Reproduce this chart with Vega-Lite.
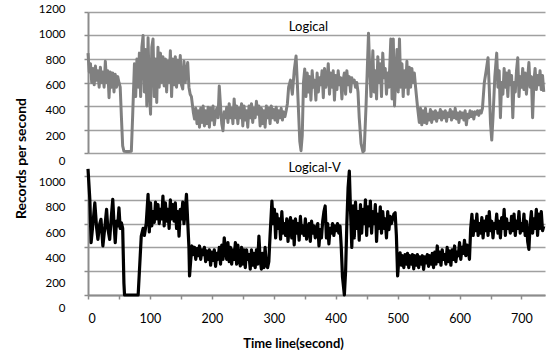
{
  "$schema": "https://vega.github.io/schema/vega-lite/v6.json",
  "padding": {"left": 14, "top": 3, "right": 2, "bottom": 0},
  "bounds": "flush",
  "spacing": 23,
  "config": {
    "view": {"stroke": null},
    "font": "Lato",
    "axis": {
      "labelFont": "Lato", "labelFontSize": 11.5, "labelColor": "#000000",
      "titleFont": "Lato", "titleColor": "#000000",
      "domain": true, "ticks": true,
      "domainColor": "#8c8c8c", "domainWidth": 2, "domainOpacity": 1,
      "tickColor": "#8c8c8c", "tickWidth": 1.5, "tickOpacity": 1,
      "gridColor": "#a0a0a0", "gridWidth": 1.5, "gridOpacity": 1
    }
  },
  "datasets": {
    "logical": [
      {"t":0,"v":850},{"t":2,"v":690},{"t":4,"v":760},{"t":6,"v":600},{"t":8,"v":720},{"t":10,"v":580},{"t":12,"v":740},{"t":14,"v":620},{"t":16,"v":700},{"t":18,"v":560},{"t":20,"v":730},{"t":22,"v":600},{"t":24,"v":690},{"t":26,"v":560},{"t":28,"v":780},{"t":30,"v":600},{"t":32,"v":700},{"t":34,"v":470},{"t":36,"v":690},{"t":38,"v":560},{"t":40,"v":680},{"t":42,"v":520},{"t":44,"v":670},{"t":46,"v":560},{"t":48,"v":650},{"t":50,"v":600},{"t":52,"v":560},{"t":54,"v":300},{"t":56,"v":60},{"t":58,"v":15},{"t":62,"v":12},{"t":66,"v":12},{"t":70,"v":15},{"t":72,"v":300},{"t":75,"v":760},
      {"t":77,"v":480},{"t":79,"v":800},{"t":81,"v":560},{"t":83,"v":850},{"t":85,"v":480},{"t":87,"v":900},{"t":89,"v":1000},{"t":91,"v":520},{"t":93,"v":880},{"t":95,"v":400},{"t":97,"v":980},{"t":99,"v":540},{"t":101,"v":330},{"t":103,"v":900},{"t":105,"v":970},{"t":107,"v":480},{"t":109,"v":800},{"t":111,"v":430},{"t":113,"v":900},{"t":115,"v":560},{"t":117,"v":850},{"t":119,"v":600},{"t":121,"v":820},{"t":123,"v":570},{"t":125,"v":800},{"t":127,"v":520},{"t":129,"v":780},{"t":131,"v":600},{"t":133,"v":870},{"t":135,"v":480},{"t":137,"v":800},{"t":139,"v":580},{"t":141,"v":820},{"t":143,"v":560},{"t":145,"v":790},{"t":147,"v":600},{"t":149,"v":830},{"t":151,"v":580},{"t":153,"v":545},{"t":155,"v":780},{"t":157,"v":600},{"t":159,"v":700},{"t":161,"v":770},{"t":163,"v":560},{"t":165,"v":500},{"t":167,"v":480},{"t":170,"v":350},{"t":172,"v":290},
      {"t":174,"v":380},{"t":176,"v":250},{"t":178,"v":360},{"t":180,"v":220},{"t":182,"v":380},{"t":184,"v":260},{"t":186,"v":400},{"t":188,"v":230},{"t":190,"v":360},{"t":192,"v":250},{"t":194,"v":390},{"t":196,"v":220},{"t":198,"v":380},{"t":200,"v":280},{"t":202,"v":400},{"t":204,"v":240},{"t":206,"v":330},{"t":208,"v":380},{"t":210,"v":300},{"t":212,"v":570},{"t":214,"v":400},{"t":216,"v":250},{"t":218,"v":190},{"t":220,"v":350},{"t":222,"v":300},{"t":224,"v":390},{"t":226,"v":260},{"t":228,"v":420},{"t":230,"v":300},{"t":232,"v":380},{"t":234,"v":250},{"t":236,"v":460},{"t":238,"v":300},{"t":240,"v":400},{"t":242,"v":250},{"t":244,"v":380},{"t":246,"v":300},{"t":248,"v":420},{"t":250,"v":230},{"t":252,"v":400},{"t":254,"v":280},{"t":256,"v":360},{"t":258,"v":220},{"t":260,"v":400},{"t":262,"v":300},{"t":264,"v":420},{"t":266,"v":260},{"t":268,"v":380},{"t":270,"v":300},{"t":272,"v":440},{"t":274,"v":330},{"t":276,"v":400},{"t":278,"v":230},{"t":280,"v":380},{"t":282,"v":250},{"t":284,"v":360},{"t":286,"v":220},{"t":288,"v":400},{"t":290,"v":300},{"t":292,"v":380},{"t":294,"v":250},{"t":296,"v":400},{"t":298,"v":300},{"t":300,"v":370},{"t":302,"v":280},{"t":304,"v":390},{"t":306,"v":260},{"t":308,"v":360},{"t":310,"v":300},{"t":312,"v":380},{"t":314,"v":280},{"t":316,"v":350},{"t":318,"v":310},{"t":320,"v":360},{"t":322,"v":420},
      {"t":324,"v":560},{"t":327,"v":620},{"t":330,"v":500},{"t":333,"v":700},{"t":336,"v":825},{"t":338,"v":600},{"t":340,"v":350},{"t":342,"v":100},{"t":344,"v":20},{"t":346,"v":150},{"t":348,"v":600},{"t":350,"v":715},
      {"t":352,"v":480},{"t":354,"v":680},{"t":356,"v":520},{"t":358,"v":650},{"t":360,"v":450},{"t":362,"v":700},{"t":364,"v":560},{"t":366,"v":620},{"t":368,"v":450},{"t":370,"v":680},{"t":372,"v":520},{"t":374,"v":640},{"t":376,"v":580},{"t":378,"v":700},{"t":380,"v":470},{"t":382,"v":720},{"t":384,"v":560},{"t":386,"v":620},{"t":388,"v":760},{"t":390,"v":500},{"t":392,"v":680},{"t":394,"v":560},{"t":396,"v":700},{"t":398,"v":450},{"t":400,"v":660},{"t":402,"v":540},{"t":404,"v":700},{"t":406,"v":580},{"t":408,"v":640},{"t":410,"v":460},{"t":412,"v":620},{"t":414,"v":680},{"t":416,"v":500},{"t":418,"v":700},{"t":420,"v":580},{"t":422,"v":650},{"t":424,"v":520},{"t":426,"v":640},{"t":428,"v":600},{"t":430,"v":620},{"t":432,"v":560},{"t":434,"v":600},{"t":436,"v":520},{"t":438,"v":300},{"t":441,"v":80},{"t":444,"v":10},{"t":446,"v":20},{"t":449,"v":400},{"t":453,"v":1020},
      {"t":455,"v":700},{"t":457,"v":480},{"t":460,"v":870},{"t":462,"v":520},{"t":464,"v":700},{"t":466,"v":460},{"t":468,"v":820},{"t":470,"v":600},{"t":472,"v":760},{"t":474,"v":480},{"t":476,"v":850},{"t":478,"v":640},{"t":480,"v":720},{"t":482,"v":500},{"t":484,"v":680},{"t":486,"v":560},{"t":489,"v":970},{"t":491,"v":460},{"t":493,"v":970},{"t":495,"v":400},{"t":497,"v":650},{"t":499,"v":880},{"t":501,"v":520},{"t":503,"v":970},{"t":505,"v":560},{"t":507,"v":760},{"t":509,"v":480},{"t":511,"v":700},{"t":513,"v":560},{"t":515,"v":780},{"t":517,"v":500},{"t":519,"v":730},{"t":521,"v":560},{"t":523,"v":720},{"t":525,"v":600},{"t":527,"v":680},{"t":529,"v":560},{"t":532,"v":400},{"t":535,"v":260},
      {"t":537,"v":380},{"t":539,"v":240},{"t":541,"v":360},{"t":543,"v":260},{"t":545,"v":380},{"t":547,"v":250},{"t":549,"v":330},{"t":551,"v":280},{"t":553,"v":370},{"t":555,"v":260},{"t":557,"v":350},{"t":559,"v":290},{"t":561,"v":360},{"t":563,"v":270},{"t":565,"v":340},{"t":567,"v":300},{"t":569,"v":370},{"t":571,"v":280},{"t":573,"v":350},{"t":575,"v":300},{"t":577,"v":360},{"t":579,"v":270},{"t":581,"v":340},{"t":583,"v":310},{"t":585,"v":370},{"t":587,"v":280},{"t":589,"v":350},{"t":591,"v":300},{"t":593,"v":380},{"t":595,"v":290},{"t":597,"v":340},{"t":599,"v":260},{"t":601,"v":350},{"t":603,"v":300},{"t":605,"v":340},{"t":607,"v":280},{"t":609,"v":360},{"t":611,"v":240},{"t":613,"v":330},{"t":615,"v":300},{"t":617,"v":360},{"t":619,"v":310},{"t":621,"v":350},{"t":623,"v":290},{"t":625,"v":350},{"t":627,"v":330},{"t":629,"v":360},{"t":631,"v":320},{"t":633,"v":360},{"t":635,"v":340},{"t":637,"v":380},
      {"t":640,"v":600},{"t":643,"v":700},{"t":646,"v":810},{"t":648,"v":550},{"t":650,"v":250},{"t":652,"v":110},{"t":654,"v":300},{"t":657,"v":650},{"t":660,"v":850},{"t":662,"v":560},{"t":664,"v":700},{"t":666,"v":300},{"t":668,"v":600},{"t":670,"v":500},{"t":672,"v":720},{"t":674,"v":560},{"t":676,"v":680},{"t":678,"v":480},{"t":680,"v":700},{"t":682,"v":580},{"t":684,"v":660},{"t":686,"v":300},{"t":688,"v":600},{"t":690,"v":520},{"t":692,"v":700},{"t":694,"v":810},{"t":696,"v":480},{"t":698,"v":650},{"t":700,"v":560},{"t":702,"v":720},{"t":704,"v":540},{"t":706,"v":680},{"t":708,"v":500},{"t":710,"v":640},{"t":712,"v":770},{"t":714,"v":560},{"t":716,"v":650},{"t":718,"v":300},{"t":720,"v":600},{"t":722,"v":720},{"t":724,"v":540},{"t":726,"v":660},{"t":728,"v":580},{"t":730,"v":700},{"t":732,"v":540},{"t":734,"v":660},{"t":736,"v":520}
    ],
    "logicalv": [
      {"t":0,"v":1060},{"t":3,"v":800},{"t":5,"v":440},{"t":8,"v":600},{"t":11,"v":775},{"t":14,"v":560},{"t":16,"v":467},{"t":19,"v":600},{"t":21,"v":636},{"t":24,"v":412},{"t":27,"v":560},{"t":30,"v":720},{"t":32,"v":560},{"t":35,"v":467},{"t":38,"v":680},{"t":40,"v":804},{"t":42,"v":600},{"t":44,"v":440},{"t":46,"v":620},{"t":48,"v":580},{"t":50,"v":733},{"t":52,"v":560},{"t":54,"v":607},{"t":56,"v":560},{"t":58,"v":100},{"t":59,"v":0},{"t":70,"v":0},{"t":81,"v":0},{"t":86,"v":495},{"t":89,"v":560},{"t":91,"v":500},{"t":94,"v":600},{"t":97,"v":846},{"t":99,"v":530},{"t":101,"v":775},{"t":103,"v":580},{"t":105,"v":700},{"t":107,"v":610},{"t":109,"v":780},{"t":111,"v":640},{"t":113,"v":760},{"t":115,"v":600},{"t":117,"v":720},{"t":119,"v":640},{"t":121,"v":832},{"t":123,"v":580},{"t":125,"v":775},{"t":127,"v":620},{"t":129,"v":720},{"t":131,"v":560},{"t":133,"v":800},{"t":135,"v":640},{"t":137,"v":760},{"t":139,"v":620},{"t":141,"v":775},{"t":143,"v":560},{"t":145,"v":700},{"t":147,"v":495},{"t":149,"v":720},{"t":151,"v":640},{"t":153,"v":780},{"t":155,"v":600},{"t":157,"v":700},{"t":159,"v":846},{"t":161,"v":620},{"t":163,"v":400},{"t":164,"v":160},{"t":166,"v":300},{"t":168,"v":412},
      {"t":170,"v":340},{"t":172,"v":400},{"t":174,"v":300},{"t":176,"v":390},{"t":178,"v":330},{"t":180,"v":412},{"t":182,"v":300},{"t":184,"v":380},{"t":186,"v":340},{"t":188,"v":400},{"t":190,"v":280},{"t":192,"v":370},{"t":194,"v":300},{"t":196,"v":380},{"t":198,"v":250},{"t":200,"v":360},{"t":202,"v":290},{"t":204,"v":380},{"t":206,"v":240},{"t":208,"v":350},{"t":210,"v":300},{"t":212,"v":400},{"t":214,"v":260},{"t":216,"v":420},{"t":218,"v":300},{"t":220,"v":481},{"t":222,"v":380},{"t":224,"v":300},{"t":226,"v":440},{"t":228,"v":280},{"t":230,"v":400},{"t":232,"v":260},{"t":234,"v":380},{"t":236,"v":300},{"t":238,"v":440},{"t":240,"v":260},{"t":242,"v":420},{"t":244,"v":300},{"t":246,"v":244},{"t":248,"v":400},{"t":250,"v":260},{"t":252,"v":380},{"t":254,"v":230},{"t":256,"v":380},{"t":258,"v":300},{"t":260,"v":340},{"t":262,"v":218},{"t":264,"v":380},{"t":266,"v":250},{"t":268,"v":350},{"t":270,"v":230},{"t":272,"v":380},{"t":274,"v":260},{"t":276,"v":495},{"t":278,"v":300},{"t":280,"v":218},{"t":282,"v":350},{"t":284,"v":230},{"t":286,"v":400},{"t":288,"v":250},{"t":290,"v":230},{"t":292,"v":280},{"t":294,"v":500},{"t":297,"v":790},
      {"t":299,"v":600},{"t":301,"v":720},{"t":303,"v":480},{"t":305,"v":680},{"t":307,"v":560},{"t":309,"v":640},{"t":311,"v":470},{"t":313,"v":700},{"t":315,"v":520},{"t":317,"v":600},{"t":319,"v":500},{"t":321,"v":640},{"t":323,"v":450},{"t":325,"v":580},{"t":327,"v":650},{"t":329,"v":480},{"t":331,"v":620},{"t":333,"v":420},{"t":335,"v":640},{"t":337,"v":520},{"t":339,"v":600},{"t":341,"v":460},{"t":343,"v":660},{"t":345,"v":520},{"t":347,"v":580},{"t":349,"v":500},{"t":351,"v":640},{"t":353,"v":470},{"t":355,"v":560},{"t":357,"v":600},{"t":359,"v":450},{"t":361,"v":620},{"t":363,"v":520},{"t":365,"v":580},{"t":367,"v":480},{"t":369,"v":560},{"t":371,"v":600},{"t":373,"v":412},{"t":375,"v":550},{"t":377,"v":480},{"t":379,"v":620},{"t":381,"v":700},{"t":383,"v":748},{"t":385,"v":480},{"t":387,"v":600},{"t":389,"v":430},{"t":391,"v":560},{"t":393,"v":520},{"t":395,"v":600},{"t":397,"v":500},{"t":399,"v":580},{"t":401,"v":540},{"t":403,"v":600},{"t":405,"v":520},{"t":407,"v":580},{"t":409,"v":400},{"t":411,"v":150},{"t":414,"v":0},{"t":416,"v":200},{"t":418,"v":600},{"t":420,"v":900},{"t":422,"v":1042},
      {"t":424,"v":700},{"t":426,"v":400},{"t":428,"v":750},{"t":430,"v":480},{"t":432,"v":780},{"t":434,"v":560},{"t":436,"v":700},{"t":438,"v":460},{"t":440,"v":760},{"t":442,"v":520},{"t":444,"v":720},{"t":446,"v":600},{"t":448,"v":800},{"t":450,"v":500},{"t":452,"v":740},{"t":454,"v":580},{"t":456,"v":790},{"t":458,"v":520},{"t":460,"v":700},{"t":462,"v":600},{"t":464,"v":760},{"t":466,"v":450},{"t":468,"v":680},{"t":470,"v":560},{"t":472,"v":740},{"t":474,"v":520},{"t":476,"v":700},{"t":478,"v":560},{"t":480,"v":640},{"t":482,"v":480},{"t":484,"v":700},{"t":486,"v":550},{"t":488,"v":660},{"t":490,"v":600},{"t":492,"v":640},{"t":494,"v":680},{"t":496,"v":691},{"t":498,"v":500},{"t":500,"v":160},{"t":502,"v":300},
      {"t":504,"v":355},{"t":506,"v":250},{"t":508,"v":330},{"t":510,"v":230},{"t":512,"v":340},{"t":514,"v":260},{"t":516,"v":350},{"t":518,"v":230},{"t":520,"v":330},{"t":522,"v":260},{"t":524,"v":340},{"t":526,"v":220},{"t":528,"v":330},{"t":530,"v":250},{"t":532,"v":340},{"t":534,"v":230},{"t":536,"v":320},{"t":538,"v":260},{"t":540,"v":330},{"t":542,"v":216},{"t":544,"v":320},{"t":546,"v":270},{"t":548,"v":340},{"t":550,"v":240},{"t":552,"v":330},{"t":554,"v":260},{"t":556,"v":350},{"t":558,"v":230},{"t":560,"v":360},{"t":562,"v":260},{"t":564,"v":412},{"t":566,"v":280},{"t":568,"v":360},{"t":570,"v":250},{"t":572,"v":380},{"t":574,"v":300},{"t":576,"v":340},{"t":578,"v":260},{"t":580,"v":400},{"t":582,"v":280},{"t":584,"v":370},{"t":586,"v":250},{"t":588,"v":380},{"t":590,"v":300},{"t":592,"v":412},{"t":594,"v":280},{"t":596,"v":360},{"t":598,"v":330},{"t":600,"v":440},{"t":602,"v":300},{"t":604,"v":400},{"t":606,"v":350},{"t":608,"v":460},{"t":610,"v":330},{"t":612,"v":420},{"t":614,"v":380},{"t":616,"v":300},{"t":618,"v":560},{"t":620,"v":678},
      {"t":622,"v":500},{"t":624,"v":620},{"t":626,"v":540},{"t":628,"v":680},{"t":630,"v":500},{"t":632,"v":600},{"t":634,"v":520},{"t":636,"v":650},{"t":638,"v":480},{"t":640,"v":620},{"t":642,"v":540},{"t":644,"v":660},{"t":646,"v":500},{"t":648,"v":700},{"t":650,"v":540},{"t":652,"v":620},{"t":654,"v":480},{"t":656,"v":600},{"t":658,"v":560},{"t":660,"v":680},{"t":662,"v":520},{"t":664,"v":620},{"t":666,"v":480},{"t":668,"v":650},{"t":670,"v":560},{"t":672,"v":720},{"t":674,"v":500},{"t":676,"v":640},{"t":678,"v":560},{"t":680,"v":600},{"t":682,"v":520},{"t":684,"v":660},{"t":686,"v":540},{"t":688,"v":680},{"t":690,"v":500},{"t":692,"v":620},{"t":694,"v":560},{"t":696,"v":700},{"t":698,"v":520},{"t":700,"v":600},{"t":702,"v":540},{"t":704,"v":680},{"t":706,"v":500},{"t":708,"v":620},{"t":710,"v":450},{"t":712,"v":384},{"t":714,"v":600},{"t":716,"v":700},{"t":718,"v":520},{"t":720,"v":640},{"t":722,"v":560},{"t":724,"v":720},{"t":726,"v":500},{"t":728,"v":680},{"t":730,"v":560},{"t":732,"v":700},{"t":734,"v":540},{"t":736,"v":580}
    ]
  },
  "vconcat": [
    {
      "width": 457,
      "height": 141,
      "encoding": {
        "x": {"field": "t", "type": "quantitative", "scale": {"domain": [0, 738], "nice": false, "zero": false}, "axis": null},
        "y": {
          "field": "v", "type": "quantitative",
          "scale": {"domain": [0, 1200], "nice": false},
          "axis": {
            "values": [0, 200, 400, 600, 800, 1000, 1200],
            "format": "d",
            "labelOverlap": false,
            "title": "Records per second",
            "titleX": -67, "titleY": 146, "titleAngle": -90, "titleAlign": "center", "titleBaseline": "middle",
            "titleFontSize": 14, "titleFontWeight": "bold",
            "tickSize": 4, "labelPadding": 19, "grid": true,
            "labelOffset": {"expr": "-2.5 + (1200 - datum.value) * 0.0093"}
          }
        }
      },
      "layer": [
        {
          "data": {"name": "logical"},
          "mark": {"type": "line", "color": "#808080", "strokeWidth": 3, "strokeJoin": "round"}
        },
        {
          "data": {"values": [{"t": 356, "v": 1072, "label": "Logical"}]},
          "mark": {"type": "text", "font": "Lato", "fontSize": 13, "color": "#000000", "align": "center", "baseline": "middle"},
          "encoding": {"text": {"field": "label"}}
        }
      ]
    },
    {
      "width": 457,
      "height": 119,
      "encoding": {
        "x": {
          "field": "t", "type": "quantitative",
          "scale": {"domain": [0, 738], "nice": false, "zero": false},
          "axis": {
            "values": [0, 50, 100, 150, 200, 250, 300, 350, 400, 450, 500, 550, 600, 650, 700],
            "labelExpr": "datum.value % 100 === 0 ? datum.label : ''",
            "labelOverlap": false,
            "title": "Time line(second)",
            "titleX": 205, "titleY": 48, "titleBaseline": "middle", "titleAlign": "center",
            "titleFontSize": 13, "titleFontWeight": "bold",
            "grid": false, "tickSize": 4, "labelPadding": 13, "labelFontSize": 12.5
          }
        },
        "y": {
          "field": "v", "type": "quantitative",
          "scale": {"domain": [0, 1000], "nice": false},
          "axis": {
            "values": [0, 200, 400, 600, 800, 1000],
            "format": "d",
            "labelOverlap": false,
            "title": null,
            "tickSize": 4, "labelPadding": 19, "grid": true,
            "labelOffset": {"expr": "6.5 + (1000 - datum.value) * 0.0073"}
          }
        }
      },
      "layer": [
        {
          "data": {"name": "logicalv"},
          "mark": {"type": "line", "color": "#000000", "strokeWidth": 3.2, "strokeJoin": "round"}
        },
        {
          "data": {"values": [{"t": 366, "v": 1067, "label": "Logical-V"}]},
          "mark": {"type": "text", "font": "Lato", "fontSize": 13, "color": "#000000", "align": "center", "baseline": "middle"},
          "encoding": {"text": {"field": "label"}}
        }
      ]
    }
  ]
}
